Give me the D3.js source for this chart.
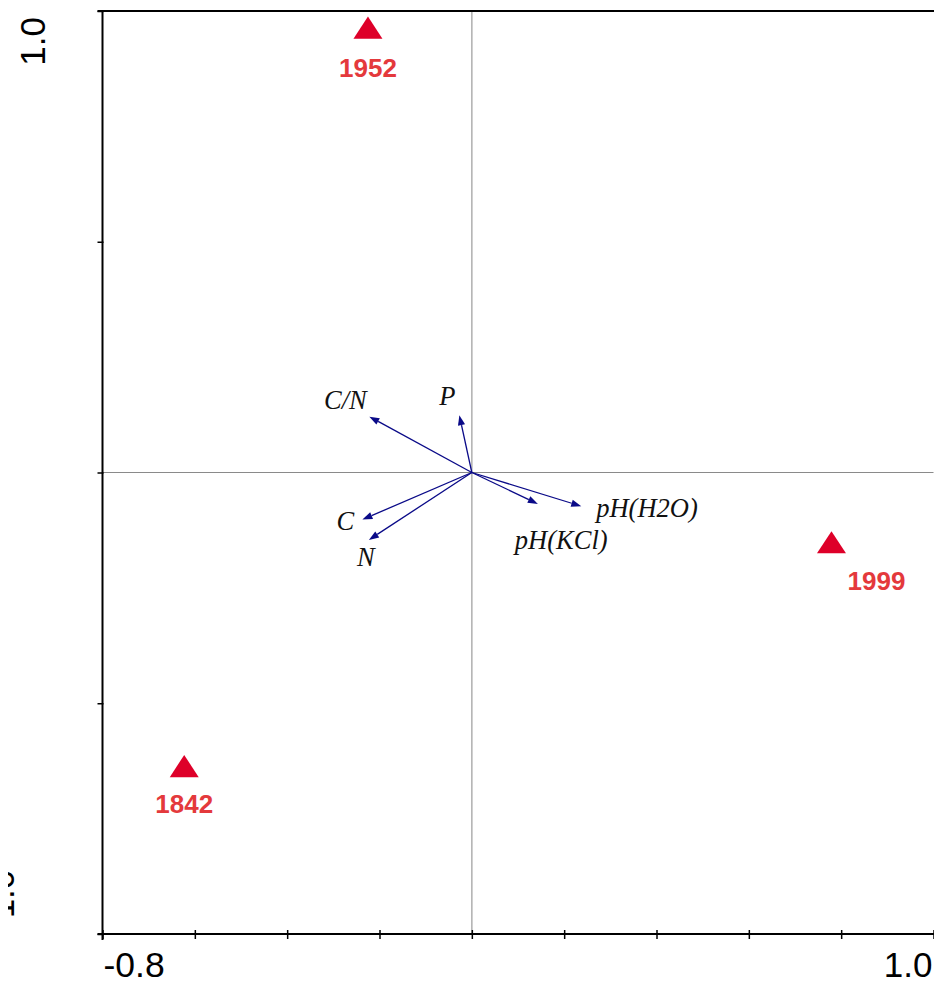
<!DOCTYPE html>
<html>
<head>
<meta charset="utf-8">
<script src="https://cdn.jsdelivr.net/npm/d3@7/dist/d3.min.js"></script>
<style>
  html, body { margin: 0; padding: 0; background: #fff; overflow: hidden; }
  svg { display: block; }
</style>
</head>
<body>
<script>
// Ordination biplot: soil variables (arrows) and sampling years (triangles)
const sampleNames = ["1952", "1999", "1842"];
const sampleX = [-0.225, 0.779, -0.623];
const sampleY = [0.958, -0.157, -0.642];

const variableNames = ["C/N", "P", "C", "N", "pH(H2O)", "pH(KCl)"];
const variableX = [-0.222, -0.027, -0.237, -0.223, 0.237, 0.143];
const variableY = [0.121, 0.124, -0.102, -0.146, -0.073, -0.068];

const xDomain = [-0.8, 1.0];
const yDomain = [-1.0, 1.0];
const xTickValues = [-0.8, -0.6, -0.4, -0.2, 0, 0.2, 0.4, 0.6, 0.8, 1.0];
const yTickValues = [-1.0, -0.5, 0, 0.5, 1.0];
const xTickLabels = ["-0.8", "1.0"];
const yTickLabels = ["-1.0", "1.0"];

const W = 934, H = 981;
const svg = d3.select("body").append("svg").attr("width", W).attr("height", H);

const x = d3.scaleLinear().domain(xDomain).range([102.5, 933.5]);
const y = d3.scaleLinear().domain(yDomain).range([934, 11]);

const axisFont = "Arial, 'Liberation Sans', sans-serif";

// clip region for the lower-left axis label (only its edge lies inside the canvas)
svg.append("defs").append("clipPath").attr("id", "leftEdge")
  .append("rect").attr("x", 8).attr("y", 0).attr("width", 60).attr("height", H);

// zero reference lines
svg.append("line")
  .attr("x1", x(0)).attr("x2", x(0)).attr("y1", y(1)).attr("y2", y(-1))
  .attr("stroke", "#b4b4b4").attr("stroke-width", 1.6);
svg.append("line")
  .attr("x1", x(-0.8)).attr("x2", x(1.0)).attr("y1", y(0)).attr("y2", y(0))
  .attr("stroke", "#8a8a8a").attr("stroke-width", 1.2);

// frame: bottom, left and top edges
const frame = svg.append("g").attr("stroke", "#000").attr("stroke-width", 2).attr("fill", "none");
frame.append("line").attr("x1", x(-0.8) - 5).attr("x2", W).attr("y1", y(-1)).attr("y2", y(-1));
frame.append("line").attr("x1", x(-0.8)).attr("x2", x(-0.8)).attr("y1", y(1)).attr("y2", y(-1) + 6);
frame.append("line").attr("x1", x(-0.8) - 5).attr("x2", W).attr("y1", y(1)).attr("y2", y(1));

// bottom axis ticks
const xAxis = d3.axisBottom(x).tickValues(xTickValues).tickSize(5).tickFormat("");
const gx = svg.append("g").attr("transform", `translate(0,${y(-1) - 4})`).call(xAxis);
gx.select(".domain").remove();
gx.selectAll(".tick line").attr("y1", 0).attr("y2", 9).attr("stroke", "#000").attr("stroke-width", 1.5);

// left axis ticks
const yAxis = d3.axisLeft(y).tickValues(yTickValues).tickSize(5).tickFormat("");
const gy = svg.append("g").attr("transform", `translate(${x(-0.8) + 1},0)`).call(yAxis);
gy.select(".domain").remove();
gy.selectAll(".tick line").attr("x1", 0).attr("x2", -6).attr("stroke", "#000").attr("stroke-width", 1.5);

// x end labels
svg.append("text").attr("x", x(-0.8) + 1).attr("y", 977)
  .attr("font-family", axisFont).attr("font-size", 35.5).attr("text-anchor", "start")
  .text(xTickLabels[0]);
svg.append("text").attr("x", x(1.0) - 1).attr("y", 977)
  .attr("font-family", axisFont).attr("font-size", 35).attr("text-anchor", "end")
  .text(xTickLabels[1]);

// y end labels (rotated)
svg.append("text").attr("transform", `translate(45,${y(1) + 6}) rotate(-90)`)
  .attr("font-family", axisFont).attr("font-size", 35).attr("text-anchor", "end")
  .text(yTickLabels[1]);
svg.append("g").attr("clip-path", "url(#leftEdge)")
  .append("text").attr("transform", `translate(14,${y(-1) - 4}) rotate(-90)`)
  .attr("font-family", axisFont).attr("font-size", 35).attr("text-anchor", "start")
  .text(yTickLabels[0]);

// variable arrows
const arrowColor = "#0a0a88";
const headLen = 10, headHalf = 3.6;
const variables = variableNames.map((n, i) => ({ name: n, vx: variableX[i], vy: variableY[i] }));
const ag = svg.append("g");
variables.forEach(v => {
  const x0 = x(0), y0 = y(0), x1 = x(v.vx), y1 = y(v.vy);
  const ang = Math.atan2(y1 - y0, x1 - x0);
  const bx = x1 - headLen * Math.cos(ang), by = y1 - headLen * Math.sin(ang);
  ag.append("line").attr("x1", x0).attr("y1", y0).attr("x2", bx).attr("y2", by)
    .attr("stroke", arrowColor).attr("stroke-width", 1.3);
  const px = -Math.sin(ang) * headHalf, py = Math.cos(ang) * headHalf;
  ag.append("path")
    .attr("d", `M${x1},${y1}L${bx + px},${by + py}L${bx - px},${by - py}Z`)
    .attr("fill", arrowColor);
});

// arrow labels placed around the arrow tips
const labelPlacement = {
  "C/N": [-24, -8, "middle"],
  "P": [-12, -10, "middle"],
  "C": [-17, 10, "middle"],
  "N": [-3, 26, "middle"],
  "pH(H2O)": [15, 11, "start"],
  "pH(KCl)": [-23, 45, "start"]
};
variables.forEach(v => {
  const [dx, dy, anchor] = labelPlacement[v.name];
  svg.append("text")
    .attr("x", x(v.vx) + dx).attr("y", y(v.vy) + dy)
    .attr("font-family", "'Times New Roman', 'Liberation Serif', serif")
    .attr("font-style", "italic").attr("font-size", 26.5).attr("fill", "#111")
    .attr("text-anchor", anchor)
    .text(v.name);
});

// sampling years
const samples = sampleNames.map((n, i) => ({ name: n, sx: sampleX[i], sy: sampleY[i] }));
const tri = d3.symbol().type(d3.symbolTriangle).size(330);
svg.append("g").selectAll("path").data(samples).join("path")
  .attr("d", tri)
  .attr("transform", d => `translate(${x(d.sx)},${y(d.sy) + 1}) scale(1.05,0.93)`)
  .attr("fill", "#de0029");

const sampleLabelOffset = { "1952": [0, 47], "1999": [45, 45], "1842": [0, 44] };
svg.append("g").selectAll("text").data(samples).join("text")
  .attr("x", d => x(d.sx) + sampleLabelOffset[d.name][0])
  .attr("y", d => y(d.sy) + sampleLabelOffset[d.name][1])
  .attr("text-anchor", "middle")
  .attr("font-family", axisFont).attr("font-weight", "bold").attr("font-size", 26)
  .attr("fill", "#e4393c")
  .text(d => d.name);
</script>
</body>
</html>
